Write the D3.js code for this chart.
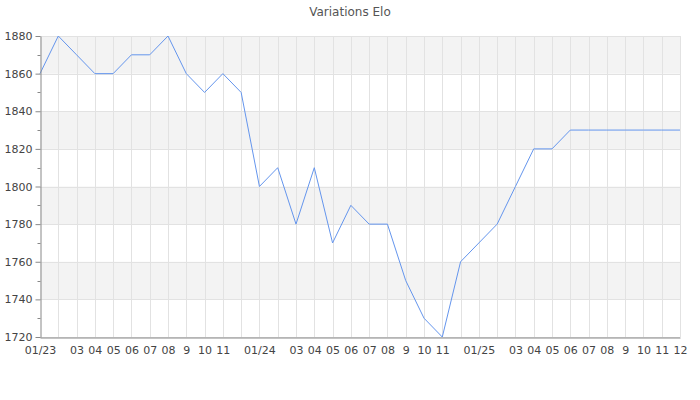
<!DOCTYPE html>
<html>
<head>
<meta charset="utf-8">
<script src="https://cdn.jsdelivr.net/npm/d3@7"></script>
<style>
  body { margin: 0; background: #fff; }
  svg { display: block; font-family: "DejaVu Sans", sans-serif; }
</style>
</head>
<body>
<div class="chart"></div>
<script>
const months = d3.range(36);
const monthLabels = [
    "01/23", "", "03", "04", "05", "06", "07", "08", "9", "10", "11", "",
    "01/24", "", "03", "04", "05", "06", "07", "08", "9", "10", "11", "",
    "01/25", "", "03", "04", "05", "06", "07", "08", "9", "10", "11", "12"
];
const eloValues = [
    1860, 1880, 1870, 1860, 1860, 1870, 1870, 1880, 1860, 1850, 1860, 1850,
    1800, 1810, 1780, 1810, 1770, 1790, 1780, 1780, 1750, 1730, 1720, 1760,
    1770, 1780, 1800, 1820, 1820, 1830, 1830, 1830, 1830, 1830, 1830, 1830
];
const yMajorTicks = d3.range(1720, 1881, 20);
const yMinorTicks = d3.range(1730, 1880, 20);

const width = 700, height = 400;
const margin = { top: 36, right: 20, bottom: 63, left: 40 };

const svg = d3.select(".chart").append("svg")
    .attr("width", width)
    .attr("height", height);

const scale_x = d3.scaleLinear()
    .domain([0, months.length - 1])
    .range([margin.left, width - margin.right]);

const scale_y = d3.scaleLinear()
    .domain([1720, 1880])
    .range([height - margin.bottom, margin.top]);

// alternating bands
svg.append("g")
    .selectAll("rect")
    .data(yMajorTicks.slice(0, -1).filter((d, i) => i % 2 === 1))
    .join("rect")
    .attr("x", margin.left)
    .attr("width", scale_x(months.length - 1) - margin.left)
    .attr("y", d => scale_y(d + 20))
    .attr("height", d => scale_y(d) - scale_y(d + 20))
    .attr("fill", "#f3f3f3");

// grid
svg.append("g")
    .selectAll("line")
    .data(yMajorTicks)
    .join("line")
    .attr("x1", margin.left)
    .attr("x2", scale_x(months.length - 1))
    .attr("y1", d => Math.round(scale_y(d)) + 0.5)
    .attr("y2", d => Math.round(scale_y(d)) + 0.5)
    .attr("stroke", "#e2e2e2");

svg.append("g")
    .selectAll("line")
    .data(months.slice(1))
    .join("line")
    .attr("x1", d => Math.round(scale_x(d)) + 0.5)
    .attr("x2", d => Math.round(scale_x(d)) + 0.5)
    .attr("y1", margin.top)
    .attr("y2", height - margin.bottom)
    .attr("stroke", "#e2e2e2");

// line
const line = d3.line()
    .x((d, i) => scale_x(i))
    .y(d => scale_y(d));

svg.append("path")
    .datum(eloValues)
    .attr("fill", "none")
    .attr("stroke", "#6495ed")
    .attr("stroke-width", 1)
    .attr("d", line);

// y axis
const yAxis = svg.append("g")
    .attr("transform", `translate(${margin.left + 0.5},0)`)
    .call(d3.axisLeft(scale_y).tickValues(yMajorTicks).tickSize(5).tickSizeOuter(0).tickFormat(d3.format("d")));

yAxis.selectAll("line, path").attr("stroke", "#888");
yAxis.selectAll("text")
    .attr("fill", "#444")
    .attr("font-size", 11)
    .attr("font-family", "DejaVu Sans, sans-serif");

yAxis.append("g")
    .selectAll("line")
    .data(yMinorTicks)
    .join("line")
    .attr("x1", -3)
    .attr("x2", 0)
    .attr("y1", d => Math.round(scale_y(d)) + 0.5)
    .attr("y2", d => Math.round(scale_y(d)) + 0.5)
    .attr("stroke", "#888");

// x axis
const xAxis = svg.append("g")
    .attr("transform", `translate(0,${height - margin.bottom + 0.5})`)
    .call(d3.axisBottom(scale_x).tickValues(months).tickSize(0).tickPadding(9).tickFormat(d => monthLabels[d]));

xAxis.select("path").attr("stroke", "#888");
xAxis.selectAll("text")
    .attr("fill", "#444")
    .attr("font-size", 11)
    .attr("font-family", "DejaVu Sans, sans-serif");

// title
svg.append("text")
    .attr("x", width / 2)
    .attr("y", 16)
    .attr("text-anchor", "middle")
    .attr("fill", "#555")
    .attr("font-size", 12)
    .text("Variations Elo");
</script>
</body>
</html>
